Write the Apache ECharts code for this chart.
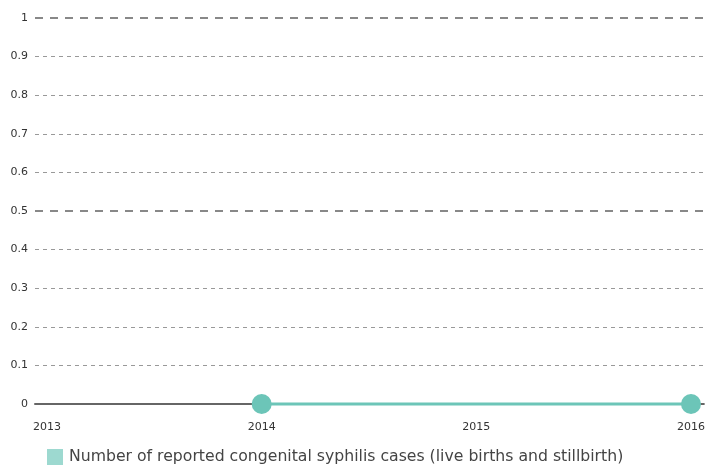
<!DOCTYPE html>
<html>
<head>
<meta charset="utf-8">
<script src="https://cdn.jsdelivr.net/npm/echarts@6/dist/echarts.min.js"></script>
<style>html,body{margin:0;padding:0;background:#fff}#c{width:708px;height:466px}</style>
</head>
<body>
<div id="c"></div>
<script>
const years = [2014, 2016];
const cases = [0, 0];
const xTicks = [2013, 2014, 2015, 2016];
const seriesName = 'Number of reported congenital syphilis cases (live births and stillbirth)';

const chart = echarts.init(document.getElementById('c'), null, {renderer: 'canvas'});
chart.setOption({
  animation: false,
  grid: {left: 35, right: 3, top: 18, bottom: 62, containLabel: false},
  legend: {
    left: 47, top: 449, padding: 0, itemWidth: 16, itemHeight: 16, itemGap: 10,
    icon: 'rect',
    textStyle: {fontFamily: 'DejaVu Sans', fontSize: 15.7, color: '#444', padding: [0, 0, 0, 1]},
    data: [{name: seriesName, itemStyle: {color: '#9dd9d0'}}]
  },
  xAxis: {
    type: 'value', min: 2012.944, max: 2016.06,
    axisLine: {show: true, onZero: false, lineStyle: {color: '#666', width: 2}},
    axisTick: {show: false},
    splitLine: {show: false},
    axisLabel: {
      customValues: xTicks, margin: 18, color: '#333',
      fontFamily: 'DejaVu Sans', fontSize: 11,
      formatter: v => String(v)
    }
  },
  yAxis: [{
    type: 'value', min: 0, max: 1, interval: 0.1,
    axisLine: {show: false}, axisTick: {show: false},
    axisLabel: {margin: 7, color: '#333', fontFamily: 'DejaVu Sans', fontSize: 11,
      formatter: v => String(Math.round(v * 10) / 10)},
    splitLine: {lineStyle: {color: ['rgba(0,0,0,0)', '#999', '#999', '#999', '#999'], width: 1, type: [4, 4]}}
  }, {
    type: 'value', min: 0, max: 1, interval: 0.5, position: 'left',
    axisLine: {show: false}, axisTick: {show: false}, axisLabel: {show: false},
    splitLine: {lineStyle: {color: ['rgba(0,0,0,0)', '#888', '#888'], width: 2, type: [8, 7]}}
  }],
  series: [{
    name: seriesName, type: 'line', yAxisIndex: 0,
    data: years.map((y, i) => [y, cases[i]]),
    symbol: 'circle', symbolSize: 20,
    lineStyle: {color: '#6cc5b8', width: 3},
    itemStyle: {color: '#6cc5b8'},
    clip: false, z: 5
  }]
});
</script>
</body>
</html>
